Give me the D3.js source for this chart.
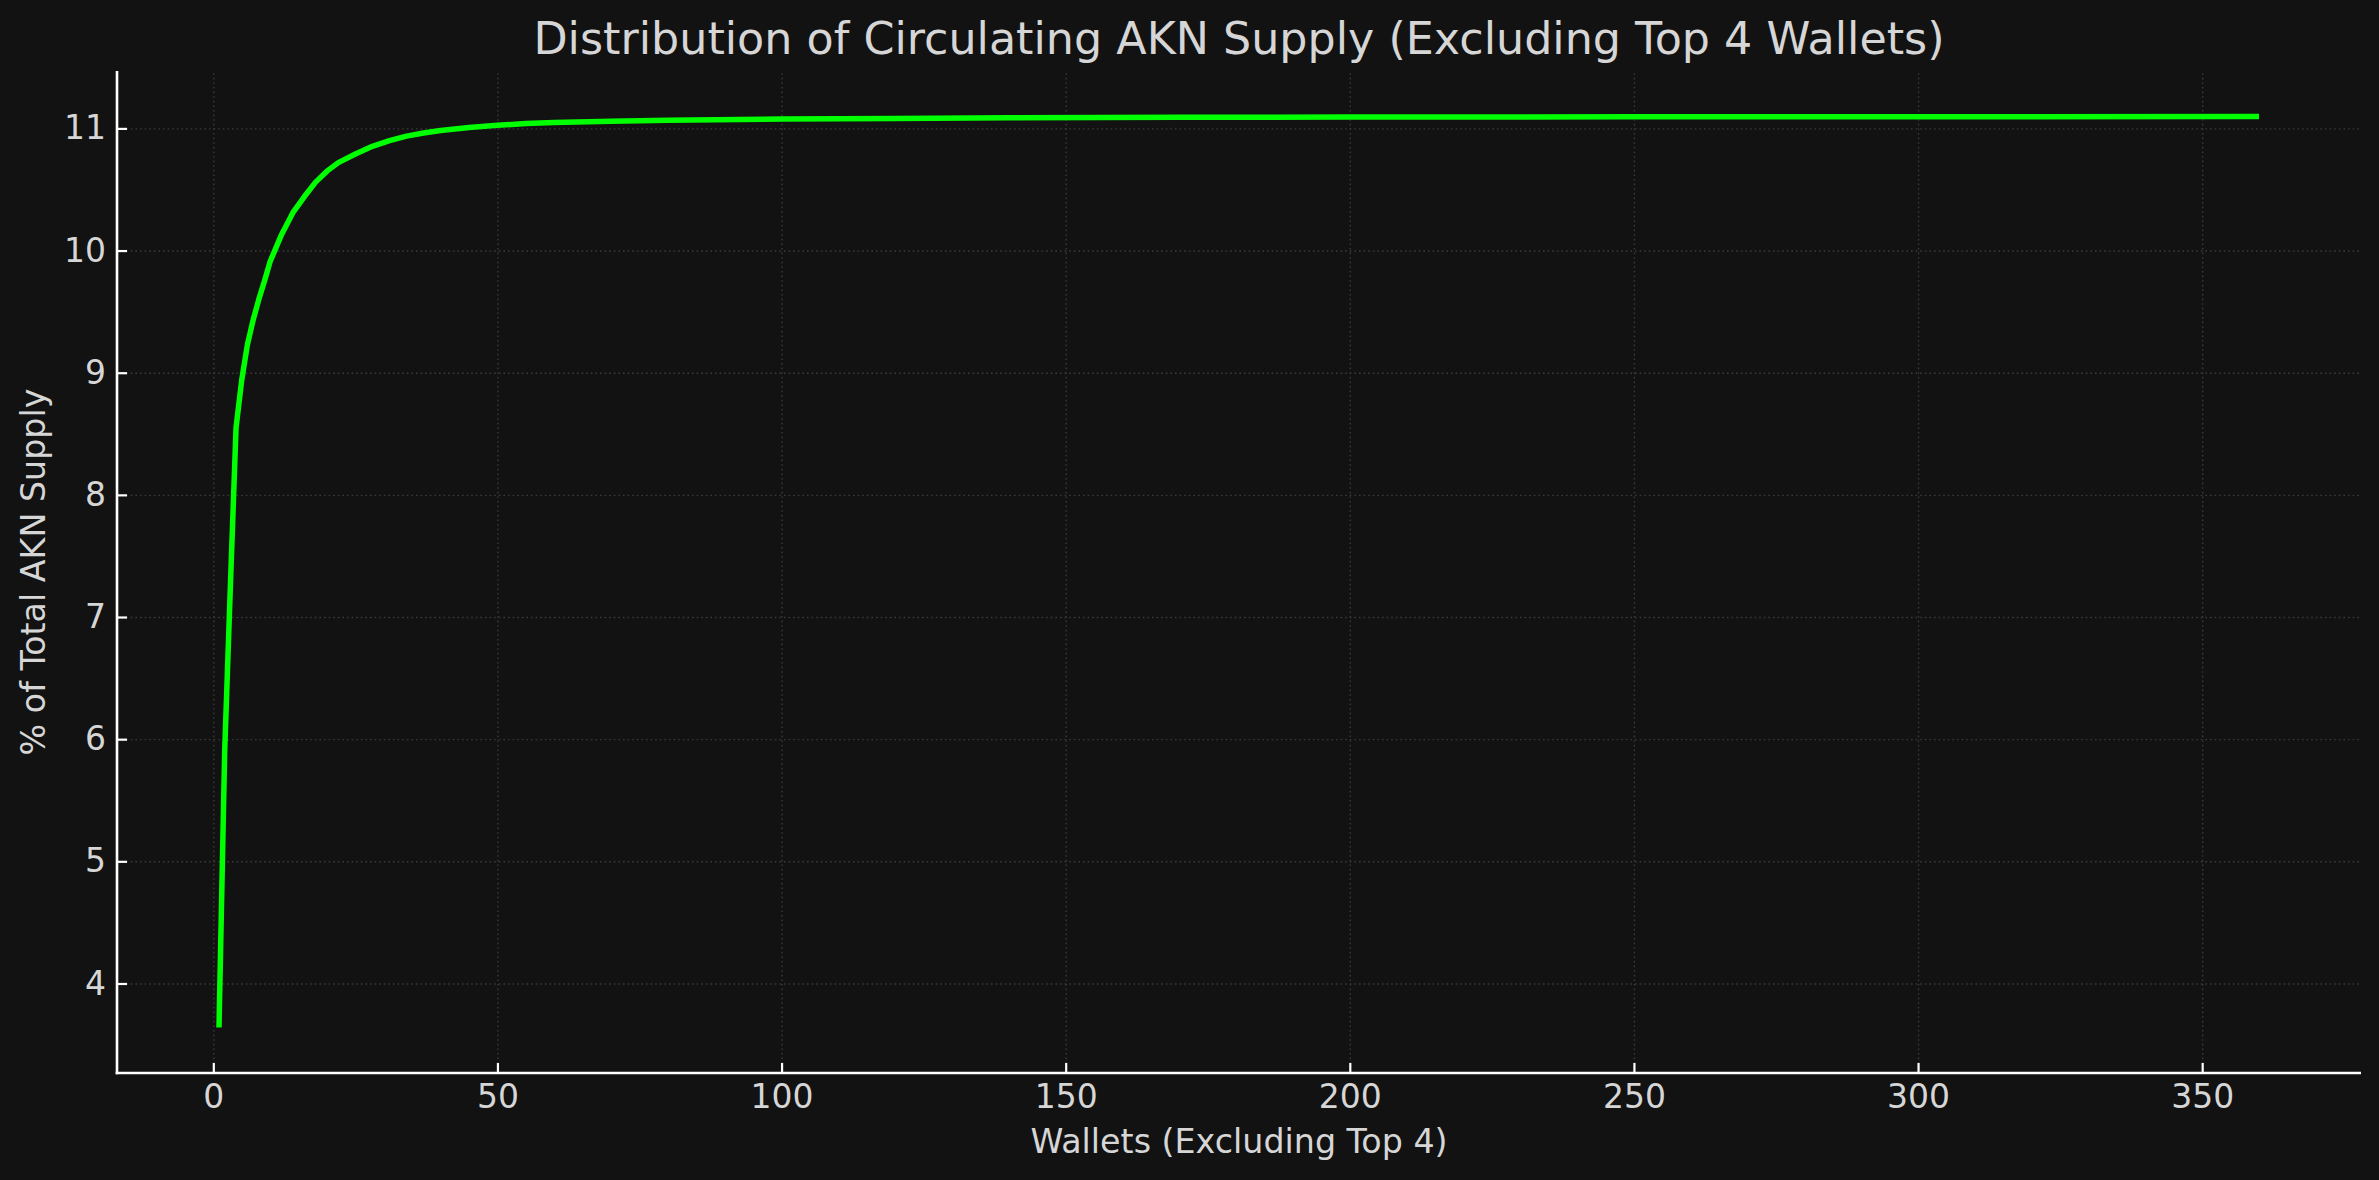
<!DOCTYPE html>
<html>
<head>
<meta charset="utf-8">
<script src="https://cdn.jsdelivr.net/npm/d3@7"></script>
<style>
  html, body { margin: 0; padding: 0; background: #121212; }
  svg { display: block; }
  text { font-family: "DejaVu Sans", sans-serif; }
</style>
</head>
<body>
<svg id="chart" width="2379" height="1180"></svg>
<script>
// ---- data ----
const wallets = [1, 2, 3, 4, 5, 6, 7, 8, 9, 10, 12, 14, 16, 18, 20, 22, 25, 28, 31, 34, 37, 40, 45, 50, 55, 60, 70, 80, 100, 120, 140, 170, 200, 250, 300, 360];
const pctSupply = [3.64, 5.9, 7.25, 8.55, 8.94, 9.23, 9.43, 9.60, 9.75, 9.91, 10.13, 10.31, 10.44, 10.56, 10.65, 10.72, 10.79, 10.853, 10.90, 10.937, 10.962, 10.983, 11.008, 11.025, 11.040, 11.048, 11.058, 11.066, 11.076, 11.082, 11.087, 11.091, 11.093, 11.095, 11.096, 11.097];
const xTicks = [0, 50, 100, 150, 200, 250, 300, 350];
const yTicks = [4, 5, 6, 7, 8, 9, 10, 11];
const titleText = "Distribution of Circulating AKN Supply (Excluding Top 4 Wallets)";
const xLabelText = "Wallets (Excluding Top 4)";
const yLabelText = "% of Total AKN Supply";

(function () {
  // ---- layout ----
  const W = 2379, H = 1180;
  const pL = 117, pR = 2361, pT = 71, pB = 1073;
  const textColor = "#d6d6d6";

  const svg = d3.select("#chart");
  svg.append("rect").attr("width", W).attr("height", H).attr("fill", "#121212");

  const data = wallets.map((w, i) => ({ x: w, y: pctSupply[i] }));

  const xExt = d3.extent(wallets), yExt = d3.extent(pctSupply);
  const xPad = (xExt[1] - xExt[0]) * 0.05, yPad = (yExt[1] - yExt[0]) * 0.05;
  const x = d3.scaleLinear().domain([xExt[0] - xPad, xExt[1] + xPad]).range([pL, pR]);
  const y = d3.scaleLinear().domain([yExt[0] - yPad, yExt[1] + yPad]).range([pB, pT]);

  // grid
  const grid = svg.append("g");
  grid.append("g").attr("transform", `translate(0,${pB})`)
    .call(d3.axisBottom(x).tickValues(xTicks).tickSize(-(pB - pT)).tickFormat(""))
    .call(g => g.select(".domain").remove());
  grid.append("g").attr("transform", `translate(${pL},0)`)
    .call(d3.axisLeft(y).tickValues(yTicks).tickSize(-(pR - pL)).tickFormat(""))
    .call(g => g.select(".domain").remove());
  grid.selectAll("line").attr("stroke", "#3a3a3a").attr("stroke-width", 1.4).attr("stroke-dasharray", "1.6,3");

  // line
  svg.append("path").datum(data)
    .attr("fill", "none").attr("stroke", "#00ff00").attr("stroke-width", 5.5)
    .attr("stroke-linejoin", "round")
    .attr("d", d3.line().x(d => x(d.x)).y(d => y(d.y)));

  // axes
  const xAxis = svg.append("g").attr("transform", `translate(0,${pB})`)
    .call(d3.axisBottom(x).tickValues(xTicks).tickSizeInner(-10).tickSizeOuter(0).tickPadding(12).tickFormat(d3.format("d")));
  const yAxis = svg.append("g").attr("transform", `translate(${pL},0)`)
    .call(d3.axisLeft(y).tickValues(yTicks).tickSizeInner(-10).tickSizeOuter(0).tickPadding(11).tickFormat(d3.format("d")));
  [xAxis, yAxis].forEach(a => {
    a.select(".domain").attr("stroke", "#ffffff").attr("stroke-width", 2.6);
    a.selectAll(".tick line").attr("stroke", "#ffffff").attr("stroke-width", 2.2);
    a.selectAll(".tick text").attr("fill", textColor).attr("font-size", 33).attr("font-family", "DejaVu Sans");
  });
  xAxis.select(".domain").attr("d", `M${pL - 1.3},0H${pR}`);
  yAxis.select(".domain").attr("d", `M0,${pB + 1.3}V${pT}`);

  // title & labels
  svg.append("text").attr("x", (pL + pR) / 2).attr("y", 54)
    .attr("text-anchor", "middle").attr("fill", textColor).attr("font-size", 44.4).text(titleText);
  svg.append("text").attr("x", (pL + pR) / 2).attr("y", 1153)
    .attr("text-anchor", "middle").attr("fill", textColor).attr("font-size", 33.3).text(xLabelText);
  svg.append("text").attr("transform", `translate(45,${(pT + pB) / 2}) rotate(-90)`)
    .attr("text-anchor", "middle").attr("fill", textColor).attr("font-size", 33.3).text(yLabelText);
})();
</script>
</body>
</html>
